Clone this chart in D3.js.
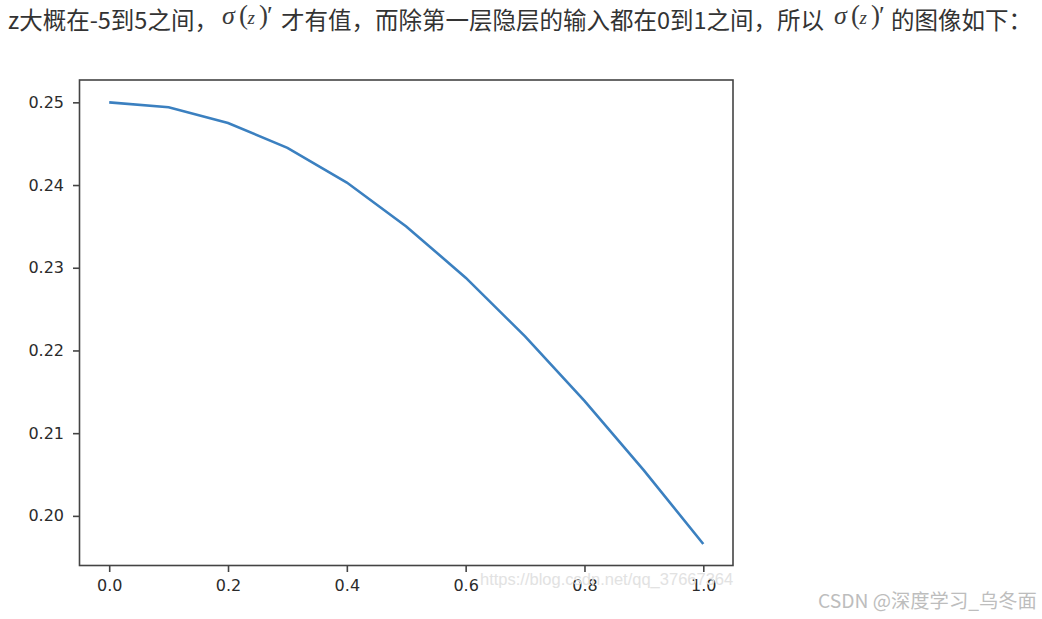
<!DOCTYPE html>
<html>
<head>
<meta charset="utf-8">
<script src="https://cdn.jsdelivr.net/npm/d3@7"></script>
<style>
  body { margin: 0; background: #fff; }
  svg { display: block; }
</style>
</head>
<body>
<script>
// values
var xValues = [0.0, 0.1, 0.2, 0.3, 0.4, 0.5, 0.6, 0.7, 0.8, 0.9, 1.0];
var yValues = [0.2500, 0.2494, 0.2475, 0.2445, 0.2403, 0.2350, 0.2288, 0.2217, 0.2139, 0.2055, 0.1966];
var xTicks = [0.0, 0.2, 0.4, 0.6, 0.8, 1.0];
var yTicks = [0.20, 0.21, 0.22, 0.23, 0.24, 0.25];

var W = 1042, H = 619;
var box = {left: 79.5, top: 80, right: 733, bottom: 565.5};

var svg = d3.select('body').append('svg')
  .attr('width', W)
  .attr('height', H);

// HEADING LINE (blog text with the two formula images)
var cjk = '"Noto Sans CJK SC", "Noto Sans", sans-serif';
var head = svg.append('g').attr('fill', '#333');
function plain(str, x) {
  head.append('text')
    .attr('x', x).attr('y', 29)
    .style('font-family', cjk)
    .style('font-size', '23.5px')
    .text(str);
}
// sigma(z)' drawn glyph by glyph like the little LaTeX image
var formulaParts = [
  {t: 'σ', dx: 0, italic: true, size: 26},
  {t: '(', dx: 17, italic: false, size: 27},
  {t: 'z', dx: 25.5, italic: true, size: 19},
  {t: ')', dx: 37, italic: false, size: 27},
  {t: '′', dx: 45, italic: false, size: 26}
];
function formula(x) {
  var t = head.append('text')
    .attr('y', 24)
    .attr('fill', '#3a3a3a')
    .style('font-family', '"Liberation Serif", "DejaVu Serif", serif');
  formulaParts.forEach(function(p) {
    t.append('tspan')
      .attr('x', x + p.dx)
      .style('font-style', p.italic ? 'italic' : 'normal')
      .style('font-size', p.size + 'px')
      .text(p.t);
  });
}
plain('z大概在-5到5之间，', 8);
formula(222);
plain('才有值，而除第一层隐层的输入都在0到1之间，所以', 281);
formula(834);
plain('的图像如下：', 891);

// PLOT
var x = d3.scaleLinear().domain([-0.05, 1.05]).range([box.left, box.right]);
var y = d3.scaleLinear().domain([0.1940, 0.2527]).range([box.bottom, box.top]);

var tickFont = '"DejaVu Sans", sans-serif';

var gx = svg.append('g')
  .attr('transform', 'translate(0,' + box.bottom + ')')
  .call(d3.axisBottom(x).tickValues(xTicks).tickSize(6.5).tickPadding(8).tickFormat(d3.format('.1f')));
var gy = svg.append('g')
  .attr('transform', 'translate(' + box.left + ',0)')
  .call(d3.axisLeft(y).tickValues(yTicks).tickSize(6.5).tickPadding(9).tickFormat(d3.format('.2f')));

[gx, gy].forEach(function(g) {
  g.select('.domain').remove();
  g.selectAll('line').attr('stroke', '#444').attr('stroke-width', 1.6);
  g.selectAll('text')
    .attr('fill', '#2b2b2b')
    .style('font-family', tickFont)
    .style('font-size', '16px');
});

svg.append('rect')
  .attr('x', box.left).attr('y', box.top)
  .attr('width', box.right - box.left)
  .attr('height', box.bottom - box.top)
  .attr('fill', 'none')
  .attr('stroke', '#444')
  .attr('stroke-width', 1.6);

var line = d3.line()
  .x(function(d, i) { return x(xValues[i]); })
  .y(function(d) { return y(d); });

svg.append('path')
  .datum(yValues)
  .attr('d', line)
  .attr('fill', 'none')
  .attr('stroke', '#3b80c0')
  .attr('stroke-width', 2.6);

// WATERMARKS
svg.append('text')
  .attr('x', 480).attr('y', 585)
  .attr('fill', '#e2e2e2')
  .style('font-family', '"Liberation Sans", Arial, sans-serif')
  .style('font-size', '16.5px')
  .text('https://blog.csdn.net/qq_37667364');

svg.append('text')
  .attr('x', 818).attr('y', 608)
  .attr('fill', '#bdbdbd')
  .style('font-family', cjk)
  .style('font-size', '19.3px')
  .text('CSDN @深度学习_乌冬面');
</script>
</body>
</html>
